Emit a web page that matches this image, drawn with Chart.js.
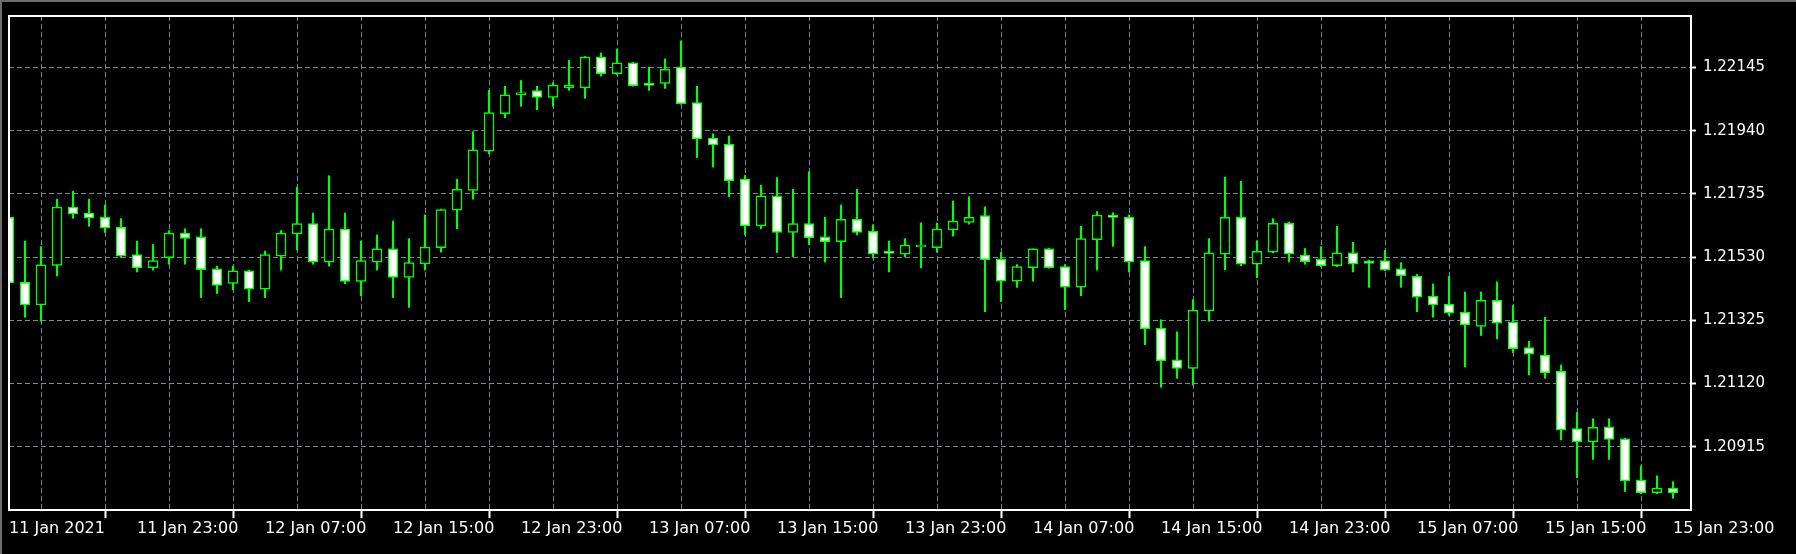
<!DOCTYPE html>
<html>
<head>
<meta charset="utf-8">
<title>EURUSD H1</title>
<script src="https://cdn.jsdelivr.net/npm/chart.js@4.4.1/dist/chart.umd.min.js"></script>
<style>
  html, body { margin: 0; padding: 0; background: #000; overflow: hidden; }
  #wrap { width: 1796px; height: 554px; }
</style>
</head>
<body>
<div id="wrap"><canvas id="priceChart" width="1796" height="554"></canvas></div>
<script>
// hourly bars, 11 Jan 15:00 .. 15 Jan 23:00
const xLabels = ['11 Jan 2021', '11 Jan 23:00', '12 Jan 07:00', '12 Jan 15:00', '12 Jan 23:00',
  '13 Jan 07:00', '13 Jan 15:00', '13 Jan 23:00', '14 Jan 07:00', '14 Jan 15:00',
  '14 Jan 23:00', '15 Jan 07:00', '15 Jan 15:00', '15 Jan 23:00'];
const yTicks = [1.20915, 1.21120, 1.21325, 1.21530, 1.21735, 1.21940, 1.22145];

const opens = [
  1.21659, 1.21448, 1.21375, 1.21503, 1.21692, 1.21673, 1.21659, 1.21627, 1.21538, 1.21495,
  1.21528, 1.21608, 1.21596, 1.21492, 1.21445, 1.21486, 1.21426, 1.21533, 1.21605, 1.21639,
  1.21514, 1.21621, 1.21451, 1.21514, 1.21557, 1.21464, 1.21508, 1.21561, 1.21682, 1.21746,
  1.21874, 1.21995, 1.22057, 1.22070, 1.22048, 1.22079, 1.22079, 1.22179, 1.22125, 1.22160,
  1.22093, 1.22093, 1.22146, 1.22031, 1.21916, 1.21897, 1.21783, 1.21631, 1.21729, 1.21610,
  1.21639, 1.21596, 1.21580, 1.21653, 1.21614, 1.21542, 1.21540, 1.21563, 1.21561, 1.21618,
  1.21643, 1.21665, 1.21524, 1.21452, 1.21496, 1.21557, 1.21499, 1.21433, 1.21587, 1.21663,
  1.21659, 1.21519, 1.21300, 1.21197, 1.21169, 1.21356, 1.21540, 1.21659, 1.21507, 1.21546,
  1.21640, 1.21537, 1.21523, 1.21502, 1.21544, 1.21518, 1.21519, 1.21492, 1.21468, 1.21404,
  1.21378, 1.21352, 1.21305, 1.21390, 1.21320, 1.21237, 1.21212, 1.21160, 1.20974, 1.20931,
  1.20980, 1.20941, 1.20808, 1.20766, 1.20781
];
const highs = [
  1.21667, 1.21582, 1.21564, 1.21718, 1.21744, 1.21718, 1.21699, 1.21655, 1.21582, 1.21571,
  1.21616, 1.21622, 1.21622, 1.21501, 1.21501, 1.21488, 1.21550, 1.21616, 1.21757, 1.21673,
  1.21794, 1.21673, 1.21582, 1.21602, 1.21647, 1.21590, 1.21667, 1.21686, 1.21783, 1.21937,
  1.22071, 1.22084, 1.22103, 1.22084, 1.22096, 1.22168, 1.22181, 1.22192, 1.22205, 1.22162,
  1.22146, 1.22173, 1.22231, 1.22084, 1.21930, 1.21923, 1.21795, 1.21763, 1.21788, 1.21750,
  1.21807, 1.21659, 1.21699, 1.21750, 1.21635, 1.21582, 1.21590, 1.21641, 1.21641, 1.21712,
  1.21726, 1.21693, 1.21545, 1.21506, 1.21557, 1.21559, 1.21506, 1.21630, 1.21678, 1.21674,
  1.21667, 1.21564, 1.21327, 1.21288, 1.21392, 1.21590, 1.21789, 1.21776, 1.21583, 1.21655,
  1.21644, 1.21558, 1.21564, 1.21630, 1.21578, 1.21520, 1.21552, 1.21512, 1.21474, 1.21443,
  1.21468, 1.21417, 1.21417, 1.21450, 1.21373, 1.21257, 1.21335, 1.21180, 1.21026, 1.21006,
  1.21006, 1.20943, 1.20853, 1.20821, 1.20802
];
const lows = [
  1.21441, 1.21335, 1.21322, 1.21469, 1.21656, 1.21630, 1.21610, 1.21529, 1.21482, 1.21488,
  1.21507, 1.21507, 1.21399, 1.21412, 1.21424, 1.21386, 1.21399, 1.21488, 1.21553, 1.21507,
  1.21501, 1.21444, 1.21405, 1.21488, 1.21399, 1.21367, 1.21488, 1.21546, 1.21622, 1.21718,
  1.21865, 1.21982, 1.22019, 1.22008, 1.22019, 1.22071, 1.22045, 1.22117, 1.22122, 1.22084,
  1.22071, 1.22077, 1.22026, 1.21853, 1.21822, 1.21726, 1.21602, 1.21622, 1.21545, 1.21531,
  1.21571, 1.21514, 1.21399, 1.21602, 1.21527, 1.21482, 1.21531, 1.21495, 1.21546, 1.21598,
  1.21637, 1.21353, 1.21386, 1.21432, 1.21452, 1.21494, 1.21360, 1.21405, 1.21488, 1.21565,
  1.21482, 1.21246, 1.21108, 1.21137, 1.21115, 1.21322, 1.21489, 1.21502, 1.21463, 1.21544,
  1.21514, 1.21507, 1.21499, 1.21499, 1.21482, 1.21432, 1.21486, 1.21432, 1.21353, 1.21335,
  1.21341, 1.21174, 1.21276, 1.21265, 1.21220, 1.21148, 1.21137, 1.20937, 1.20815, 1.20874,
  1.20874, 1.20770, 1.20763, 1.20763, 1.20748
];
const closes = [
  1.21446, 1.21375, 1.21505, 1.21692, 1.21669, 1.21656, 1.21624, 1.21533, 1.21495, 1.21519,
  1.21608, 1.21591, 1.21489, 1.21438, 1.21486, 1.21426, 1.21538, 1.21608, 1.21639, 1.21514,
  1.21621, 1.21451, 1.21519, 1.21557, 1.21464, 1.21512, 1.21563, 1.21684, 1.21750, 1.21878,
  1.21999, 1.22056, 1.22062, 1.22048, 1.22088, 1.22088, 1.22179, 1.22125, 1.22160, 1.22086,
  1.22087, 1.22139, 1.22028, 1.21913, 1.21894, 1.21778, 1.21631, 1.21729, 1.21610, 1.21639,
  1.21593, 1.21580, 1.21653, 1.21610, 1.21540, 1.21542, 1.21569, 1.21567, 1.21621, 1.21647,
  1.21659, 1.21522, 1.21452, 1.21499, 1.21557, 1.21496, 1.21433, 1.21590, 1.21666, 1.21659,
  1.21514, 1.21298, 1.21194, 1.21169, 1.21358, 1.21544, 1.21659, 1.21507, 1.21549, 1.21640,
  1.21540, 1.21515, 1.21502, 1.21544, 1.21507, 1.21510, 1.21488, 1.21470, 1.21400, 1.21375,
  1.21348, 1.21310, 1.21390, 1.21316, 1.21233, 1.21215, 1.21155, 1.20969, 1.20931, 1.20978,
  1.20939, 1.20804, 1.20766, 1.20781, 1.20766
];

const GREEN = '#00ff00';
const GRID = '#778899';

// bodies drawn as floating bars open..close, wicks as thin bars low..high
const bodies = opens.map((o, i) => ({ x: i, y: [o, closes[i]] }));
const wicks = lows.map((l, i) => ({ x: i, y: [l, highs[i]] }));
const bodyFill = opens.map((o, i) => closes[i] > o ? '#000000' : '#ffffff');

const frame = {
  id: 'frame',
  beforeDraw(chart) {
    const c = chart.ctx;
    c.save();
    c.fillStyle = '#000';
    c.fillRect(0, 0, chart.width, chart.height);
    c.fillStyle = '#6d6d6d';
    c.fillRect(0, 0, chart.width, 2);
    c.fillRect(0, 0, 2, chart.height);
    c.restore();
  },
  afterDraw(chart) {
    const a = chart.chartArea;
    const c = chart.ctx;
    c.save();
    c.strokeStyle = '#ffffff';
    c.lineWidth = 2;
    c.strokeRect(a.left, a.top, a.right - a.left, a.bottom - a.top);
    c.restore();
  }
};

const ctx = document.getElementById('priceChart').getContext('2d');
const chart = new Chart(ctx, {
  type: 'bar',
  data: {
    datasets: [
      {
        label: 'body',
        data: bodies,
        backgroundColor: bodyFill,
        borderColor: GREEN,
        borderWidth: 1.5,
        borderSkipped: false,
        barThickness: 10,
        minBarLength: 2,
        grouped: false,
        clip: 0,
        order: 0
      },
      {
        label: 'wick',
        data: wicks,
        backgroundColor: GREEN,
        borderWidth: 0,
        barThickness: 1.5,
        grouped: false,
        clip: 0,
        order: 1
      }
    ]
  },
  options: {
    responsive: false,
    animation: false,
    events: [],
    layout: { padding: { left: 9, top: 11, right: 0, bottom: 0 } },
    plugins: { legend: { display: false }, tooltip: { enabled: false } },
    scales: {
      x: {
        type: 'linear',
        min: 0,
        max: 105.125,
        offset: false,
        afterBuildTicks: s => {
          const t = [];
          for (let v = 0; v <= 104; v += 4) t.push({ value: v });
          s.ticks = t;
        },
        afterFit: s => { s.height = 44; },
        ticks: {
          autoSkip: false,
          maxRotation: 0,
          align: 'start',
          padding: 1,
          color: '#ffffff',
          font: { family: 'DejaVu Sans', size: 16 },
          callback: v => (v % 8 === 0 ? xLabels[v / 8] : '')
        },
        grid: {
          color: GRID,
          lineWidth: 1,
          tickLength: 8,
          tickWidth: 2,
          tickColor: c => (c.tick && c.tick.value % 8 === 0 ? '#ffffff' : 'rgba(0,0,0,0)')
        },
        border: { color: '#ffffff', width: 2, dash: [5, 3] }
      },
      y: {
        position: 'right',
        min: 1.20710,
        max: 1.22312,
        afterBuildTicks: s => { s.ticks = yTicks.map(v => ({ value: v })); },
        afterFit: s => { s.width = 105; },
        ticks: {
          padding: 7,
          color: '#ffffff',
          font: { family: 'DejaVu Sans', size: 15 },
          callback: v => v.toFixed(5)
        },
        grid: {
          color: GRID,
          lineWidth: 1,
          tickLength: 5,
          tickWidth: 2,
          tickColor: '#ffffff'
        },
        border: { color: '#ffffff', width: 2, dash: [5, 3] }
      }
    }
  },
  plugins: [frame]
});
</script>
</body>
</html>
